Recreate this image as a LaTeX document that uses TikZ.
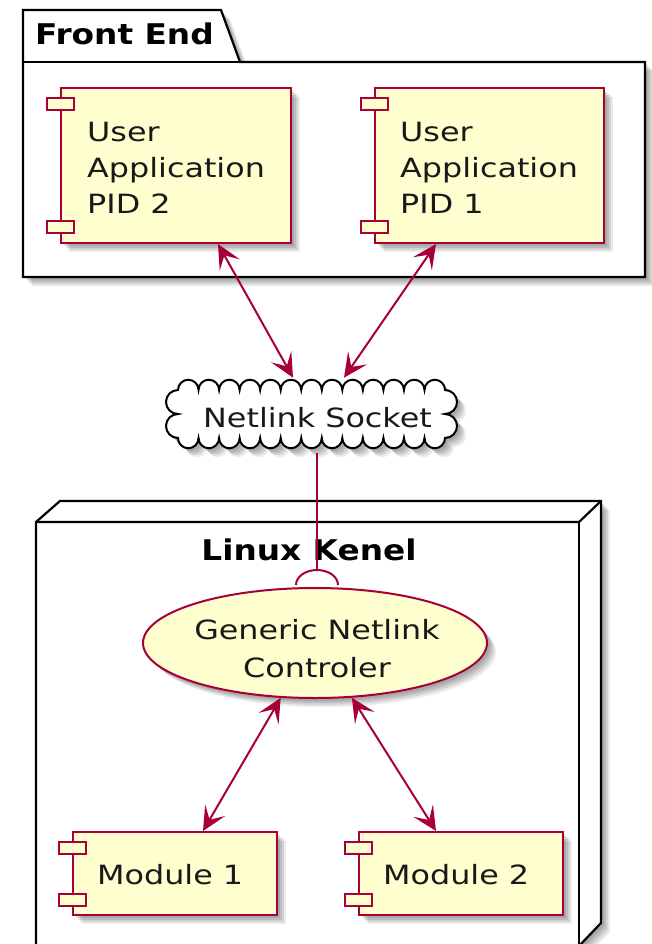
\documentclass[tikz,border=0pt]{standalone}
\usepackage{fontspec}
\setmainfont{DejaVu Sans}
\newfontfamily\bodyf{DejaVu Sans}[FakeStretch=1.2]
\newfontfamily\titlef{DejaVu Sans}[FakeStretch=1.15]
\usetikzlibrary{shapes.geometric,arrows.meta,calc,shadows}
\definecolor{crim}{HTML}{A80036}
\definecolor{cream}{HTML}{FEFECE}
\begin{document}
\begin{tikzpicture}[x=1pt,y=-1pt,
  shad/.style={
    drop shadow={shadow xshift=3pt,shadow yshift=-3pt,fill=black,opacity=.10},
    drop shadow={shadow xshift=5pt,shadow yshift=-5pt,fill=black,opacity=.10},
    drop shadow={shadow xshift=7pt,shadow yshift=-7pt,fill=black,opacity=.10},
    drop shadow={shadow xshift=9pt,shadow yshift=-9pt,fill=black,opacity=.08}},
  pkgline/.style={draw=black,line width=2.2pt,line join=miter},
  comp/.style={rectangle,draw=crim,fill=cream,line width=2pt,inner sep=0,shad},
  port/.style={rectangle,draw=crim,fill=cream,line width=2pt,inner sep=0,
    minimum width=27pt,minimum height=12pt},
  txt/.style={font=\bodyf\fontsize{26.5}{36}\selectfont,inner sep=0,align=left,text=black!90},
  ttl/.style={font=\titlef\bfseries\fontsize{28.5}{34}\selectfont,inner sep=0,text=black},
  conn/.style={draw=crim,line width=2pt},
  biarrow/.style={conn,{Stealth[length=24pt,width=23pt,inset=11pt]}-{Stealth[length=24pt,width=23pt,inset=11pt]}}
]
\useasboundingbox (0,0) rectangle (652,944);
\fill[white] (0,0) rectangle (652,944);

% Front End package
\draw[pkgline,fill=white,shad] (23,10) -- (221,10) -- (240,62) -- (645,62) -- (645,277) -- (23,277) -- cycle;
\draw[pkgline] (23,62) -- (240,62);
\node[ttl,anchor=base west] (fetitle) at (35,45) {Front End};

% components in Front End
\node[comp,minimum width=230pt,minimum height=155pt] (pid2) at (176,165.5) {};
\node[port] (pid2pa) at ($(pid2.north west)+(0,17)$) {};
\node[port] (pid2pb) at ($(pid2.south west)+(0,-17)$) {};
\node[txt,anchor=west] (pid2t) at ($(pid2.west)+(27,2)$) {User\\Application\\PID 2};

\node[comp,minimum width=229pt,minimum height=155pt] (pid1) at (489.5,165.5) {};
\node[port] (pid1pa) at ($(pid1.north west)+(0,17)$) {};
\node[port] (pid1pb) at ($(pid1.south west)+(0,-17)$) {};
\node[txt,anchor=west] (pid1t) at ($(pid1.west)+(26,2)$) {User\\Application\\PID 1};

% Netlink socket cloud
\draw[black,line width=2pt,fill=white,shad] (178,390)
  \foreach \i in {1,...,13}{ arc[start angle=180,end angle=360,radius=10.27] }
  \foreach \i in {1,2}{ arc[start angle=-90,end angle=90,radius=12] }
  \foreach \i in {1,...,13}{ arc[start angle=0,end angle=180,radius=10.27] }
  \foreach \i in {1,2}{ arc[start angle=90,end angle=270,radius=12] } -- cycle;
\node[txt,anchor=base] (socket) at (317.5,427) {Netlink Socket};

% Linux Kenel node (3D box)
\draw[pkgline,fill=white,shad] (36,522) -- (60,501) -- (601,501) -- (601,923) -- (579,946) -- (36,946) -- cycle;
\draw[pkgline] (36,522) -- (579,522) -- (601,501);
\draw[pkgline] (579,522) -- (579,946);
\node[ttl,anchor=base] (lktitle) at (309,560) {Linux Kenel};

% Generic Netlink Controler
\node[ellipse,draw=crim,fill=cream,line width=2pt,minimum width=344pt,minimum height=110pt,inner sep=0,shad] (gnc) at (315,643) {};
\node[txt,align=center,font=\bodyf\fontsize{26.5}{38}\selectfont] (gnct) at (317,649) {Generic Netlink\\Controler};

% modules
\node[comp,minimum width=204pt,minimum height=83pt] (mod1) at (175,873.5) {};
\node[port] (mod1pa) at ($(mod1.north west)+(0,17)$) {};
\node[port] (mod1pb) at ($(mod1.south west)+(0,-16)$) {};
\node[txt,anchor=base west] (mod1t) at ($(mod1.south west)+(25,-32)$) {Module 1};

\node[comp,minimum width=204pt,minimum height=83pt] (mod2) at (461,873.5) {};
\node[port] (mod2pa) at ($(mod2.north west)+(0,17)$) {};
\node[port] (mod2pb) at ($(mod2.south west)+(0,-16)$) {};
\node[txt,anchor=base west] (mod2t) at ($(mod2.south west)+(25,-32)$) {Module 2};

% connectors
\draw[biarrow] ($(pid2.south west)+(158,0)$) -- ($(socket.north)+(-24.5,-29)$);
\draw[biarrow] ($(pid1.south west)+(62,0)$) -- ($(socket.north)+(26.5,-29)$);

\coordinate (iface) at (317,570);
\draw[conn] ($(iface |- socket.south)+(0,25)$) -- (iface);
\draw[conn] ($(iface)+(-21,15)$) arc[start angle=180,end angle=360,x radius=21,y radius=15];

\draw[biarrow] (gnc.238) -- ($(mod1.north west)+(131,0)$);
\draw[biarrow] (gnc.304) -- ($(mod2.north west)+(78,0)$);
\end{tikzpicture}
\end{document}
